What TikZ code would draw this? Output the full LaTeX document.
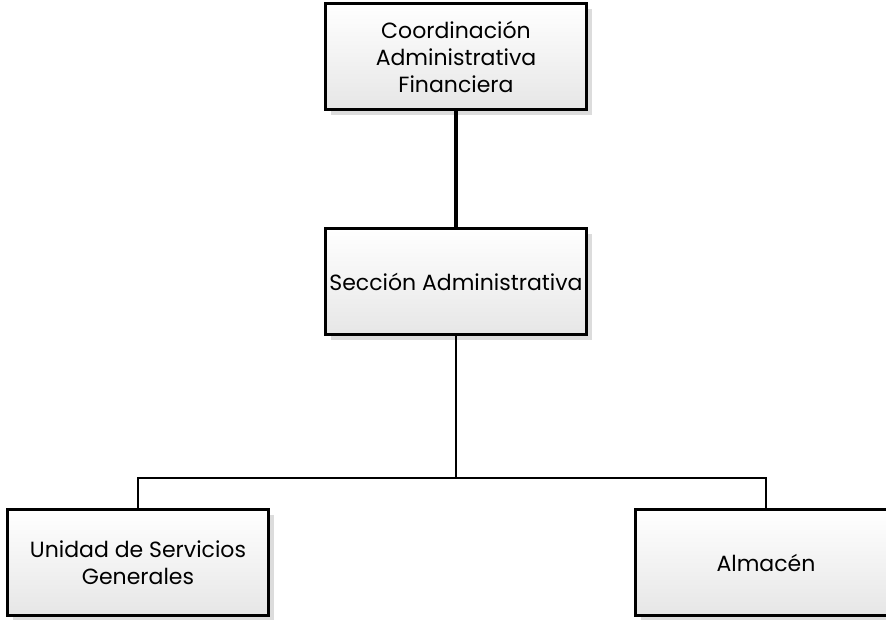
\documentclass[tikz,border=0pt]{standalone}
\usepackage{fontspec}
\setmainfont{Poppins}
\usetikzlibrary{shadows}
\definecolor{orgshade}{HTML}{E6E6E6}
\definecolor{orgshadow}{HTML}{DCDCDC}

\begin{document}
\begin{tikzpicture}[x=1pt,y=1pt,
  unitbox/.style={draw=black,line width=3pt,top color=white,bottom color=orgshade,
    minimum width=261pt,minimum height=106pt,inner sep=0pt,align=center,
    font=\fontsize{22}{27}\selectfont,
    drop shadow={shadow xshift=5pt,shadow yshift=-5pt,fill=orgshadow,opacity=1}},
  mainlink/.style={line width=4pt},
  sublink/.style={line width=2pt}]
  \useasboundingbox (0,0) rectangle (886,620);
  \clip (0,0) rectangle (886,620);
  \node[unitbox] (coord) at (456,563) {Coordinación\\Administrativa\\Financiera};
  \node[unitbox] (secc) at (456,338) {Sección Administrativa};
  \node[unitbox] (usg) at (138,57) {Unidad de Servicios\\Generales};
  \node[unitbox] (alm) at (766,57) {Almacén};
  \coordinate (bus) at (456,142);
  \draw[mainlink] (coord.south) -- (secc.north);
  \draw[sublink] (secc.south) -- (bus) -| (usg.north);
  \draw[sublink] (bus) -| (alm.north);
\end{tikzpicture}
\end{document}
